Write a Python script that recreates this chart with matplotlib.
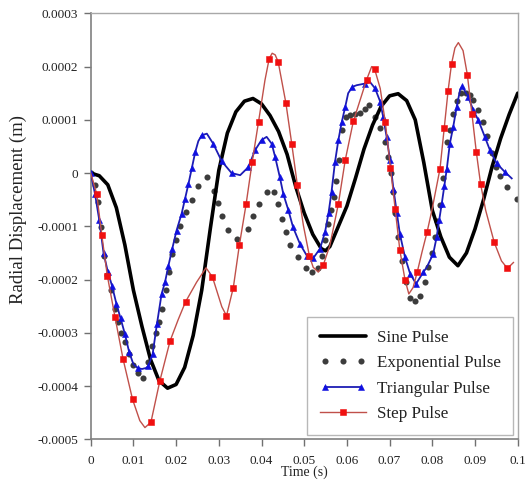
import matplotlib
matplotlib.use("Agg")
import matplotlib.pyplot as plt
from matplotlib.legend_handler import HandlerLine2D

# ---------------- data (displacement in units of 1e-4 m) ----------------
t_sine = [0.000, 0.002, 0.004, 0.006, 0.008, 0.010, 0.012, 0.014, 0.016, 0.018,
          0.020, 0.022, 0.024, 0.026, 0.028, 0.030, 0.032, 0.034, 0.036, 0.038,
          0.040, 0.042, 0.044, 0.046, 0.048, 0.050, 0.052, 0.054, 0.055, 0.056,
          0.058, 0.060, 0.062, 0.064, 0.066, 0.068, 0.070, 0.072, 0.074, 0.076,
          0.078, 0.080, 0.082, 0.084, 0.086, 0.088, 0.090, 0.092, 0.094, 0.096,
          0.098, 0.100]
y_sine = [0.00, -0.05, -0.22, -0.65, -1.35, -2.20, -2.88, -3.50, -3.90, -4.04,
          -3.97, -3.65, -3.05, -2.20, -1.05, 0.05, 0.75, 1.15, 1.35, 1.40,
          1.30, 1.08, 0.78, 0.35, -0.25, -0.75, -1.15, -1.42, -1.46, -1.38,
          -1.00, -0.62, -0.10, 0.45, 0.90, 1.25, 1.45, 1.49, 1.36, 1.00,
          0.20, -0.70, -1.20, -1.58, -1.74, -1.50, -1.05, -0.50, 0.12, 0.65,
          1.10, 1.50]

t_exp = [0.0000, 0.0010, 0.0016, 0.0023, 0.0031, 0.0039, 0.0047, 0.0056, 0.0064,
         0.0072, 0.0080, 0.0090, 0.0100, 0.0111, 0.0122, 0.0133, 0.0143, 0.0152,
         0.0161, 0.0168, 0.0176, 0.0183, 0.0190, 0.0200, 0.0209, 0.0222, 0.0237,
         0.0252, 0.0272, 0.0288, 0.0299, 0.0308, 0.0322, 0.0343, 0.0369, 0.0381,
         0.0395, 0.0412, 0.0429, 0.0439, 0.0447, 0.0457, 0.0467, 0.0486, 0.0504,
         0.0518, 0.0532, 0.0541, 0.0549, 0.0556, 0.0563, 0.0569, 0.0575, 0.0581,
         0.0588, 0.0598, 0.0608, 0.0619, 0.0631, 0.0642, 0.0652, 0.0666, 0.0678,
         0.0689, 0.0697, 0.0703, 0.0708, 0.0713, 0.0720, 0.0728, 0.0738, 0.0748,
         0.0760, 0.0771, 0.0783, 0.0791, 0.0799, 0.0806, 0.0812, 0.0818, 0.0826,
         0.0834, 0.0841, 0.0849, 0.0858, 0.0868, 0.0878, 0.0888, 0.0896, 0.0908,
         0.0918, 0.0928, 0.0939, 0.0949, 0.0959, 0.0976, 0.0998]
y_exp = [0.00, -0.23, -0.55, -1.02, -1.55, -1.92, -2.20, -2.55, -2.80,
         -3.00, -3.18, -3.40, -3.60, -3.75, -3.84, -3.55, -3.24, -3.00,
         -2.80, -2.55, -2.20, -1.85, -1.52, -1.25, -1.00, -0.74, -0.51,
         -0.25, -0.08, -0.33, -0.56, -0.80, -1.06, -1.24, -1.05, -0.80,
         -0.58, -0.36, -0.36, -0.58, -0.86, -1.11, -1.36, -1.58, -1.78,
         -1.85, -1.78, -1.55, -1.25, -0.95, -0.70, -0.45, -0.15, 0.25,
         0.80, 1.05, 1.09, 1.10, 1.12, 1.20, 1.27, 1.05, 0.84,
         0.58, 0.30, 0.00, -0.35, -0.75, -1.20, -1.65, -2.05, -2.34,
         -2.40, -2.30, -2.05, -1.77, -1.50, -1.20, -0.90, -0.60, -0.10,
         0.58, 0.80, 1.10, 1.35, 1.50, 1.50, 1.46, 1.37, 1.18,
         0.95, 0.70, 0.37, 0.12, -0.06, -0.27, -0.48]

t_tri = [0.000, 0.001, 0.002, 0.003, 0.004, 0.005, 0.006, 0.007, 0.008, 0.009,
         0.010, 0.011, 0.012, 0.013, 0.0135, 0.0145, 0.0155, 0.0166, 0.0174, 0.0182,
         0.0191, 0.0201, 0.0213, 0.0221, 0.0229, 0.0237, 0.0245, 0.0252, 0.0260, 0.0272,
         0.0287, 0.0307, 0.0330, 0.0350, 0.0369, 0.0385, 0.0400, 0.0412, 0.0424, 0.0432,
         0.0443, 0.0451, 0.0463, 0.0474, 0.0490, 0.0506, 0.0521, 0.0537, 0.0549, 0.0557,
         0.0564, 0.0572, 0.0580, 0.0588, 0.0596, 0.0603, 0.0613, 0.0623, 0.0642, 0.0654,
         0.0666, 0.0678, 0.0685, 0.0693, 0.0701, 0.0709, 0.0717, 0.0724, 0.0736, 0.0748,
         0.0762, 0.0779, 0.0787, 0.0802, 0.0810, 0.0816, 0.0822, 0.0828, 0.0834, 0.0841,
         0.0849, 0.0857, 0.0865, 0.0870, 0.0884, 0.0896, 0.0908, 0.0923, 0.0935, 0.0951,
         0.0970, 0.0986]
y_tri = [0.00, -0.39, -0.88, -1.50, -1.85, -2.12, -2.45, -2.73, -3.02, -3.36,
         -3.59, -3.66, -3.68, -3.66, -3.62, -3.40, -2.84, -2.27, -2.05, -1.74,
         -1.42, -1.08, -0.76, -0.48, -0.20, 0.10, 0.40, 0.60, 0.71, 0.74,
         0.55, 0.22, 0.00, -0.04, 0.11, 0.43, 0.62, 0.68, 0.55, 0.30,
         -0.08, -0.39, -0.70, -1.02, -1.33, -1.55, -1.60, -1.42, -1.10, -0.75,
         -0.35, 0.20, 0.62, 0.96, 1.24, 1.50, 1.62, 1.65, 1.68, 1.71,
         1.59, 1.34, 1.05, 0.68, 0.24, -0.30, -0.75, -1.14, -1.58, -1.89,
         -2.08, -1.86, -1.77, -1.52, -1.21, -0.89, -0.58, -0.25, 0.08, 0.55,
         0.87, 1.24, 1.56, 1.63, 1.43, 1.18, 0.99, 0.68, 0.43, 0.18,
         0.02, -0.10]

t_step = [0.0000, 0.0014, 0.0026, 0.0039, 0.0057, 0.0076, 0.0098, 0.0115, 0.0127, 0.0141,
          0.0162, 0.0186, 0.0205, 0.0222, 0.0248, 0.0270, 0.0285, 0.0307, 0.0318, 0.0334,
          0.0348, 0.0364, 0.0378, 0.0393, 0.0408, 0.0418, 0.0425, 0.0432, 0.0439, 0.0457,
          0.0471, 0.0484, 0.0498, 0.0512, 0.0521, 0.0533, 0.0545, 0.0560, 0.0580, 0.0596,
          0.0615, 0.0646, 0.0658, 0.0665, 0.0678, 0.0690, 0.0702, 0.0713, 0.0724, 0.0736,
          0.0745, 0.0755, 0.0765, 0.0776, 0.0788, 0.0799, 0.0818, 0.0828, 0.0837, 0.0845,
          0.0853, 0.0861, 0.0872, 0.0882, 0.0893, 0.0903, 0.0913, 0.0925, 0.0945, 0.0962,
          0.0976, 0.0990]
y_step = [0.00, -0.39, -1.17, -1.93, -2.71, -3.50, -4.25, -4.65, -4.78, -4.68,
          -3.90, -3.15, -2.75, -2.42, -2.05, -1.78, -1.95, -2.51, -2.68, -2.15,
          -1.36, -0.58, 0.20, 0.96, 1.74, 2.15, 2.25, 2.22, 2.09, 1.32,
          0.54, -0.23, -0.98, -1.55, -1.77, -1.86, -1.72, -1.36, -0.58, 0.24,
          0.97, 1.75, 2.00, 1.95, 1.59, 0.95, 0.10, -0.67, -1.45, -2.00,
          -2.27, -2.15, -1.85, -1.48, -1.10, -0.70, 0.08, 0.85, 1.55, 2.05,
          2.35, 2.45, 2.30, 1.85, 1.10, 0.40, -0.20, -0.70, -1.30, -1.65,
          -1.79, -1.68]

labels = ["Sine Pulse", "Exponential Pulse", "Triangular Pulse", "Step Pulse"]
x_ticks = [0, 0.01, 0.02, 0.03, 0.04, 0.05, 0.06, 0.07, 0.08, 0.09, 0.1]
x_ticklabels = ["0", "0.01", "0.02", "0.03", "0.04", "0.05", "0.06", "0.07", "0.08", "0.09", "0.1"]
y_ticks = [0.0003, 0.0002, 0.0001, 0, -0.0001, -0.0002, -0.0003, -0.0004, -0.0005]
y_ticklabels = ["0.0003", "0.0002", "0.0001", "0", "-0.0001", "-0.0002", "-0.0003", "-0.0004", "-0.0005"]

SCALE = 1e-4

plt.rcParams["font.family"] = ["Liberation Serif", "DejaVu Serif"]

fig = plt.figure(figsize=(5.28, 4.86), dpi=100)
ax = fig.add_axes([0.1718, 0.0961, 0.8087, 0.8765])

l_sine, = ax.plot(t_sine, [v * SCALE for v in y_sine], color="black", lw=2.6,
                  solid_capstyle="round", label=labels[0], zorder=3)
l_exp, = ax.plot(t_exp, [v * SCALE for v in y_exp], linestyle="none", marker="o",
                 ms=4.4, mew=0, color="#3c3c3c", label=labels[1], zorder=2)
l_tri, = ax.plot(t_tri, [v * SCALE for v in y_tri], color="#1c1cb4", lw=1.3,
                 marker="^", ms=4.6, mew=0.4, mfc="#1010e0", mec="#1010e0",
                 markevery=(0.0, 0.024), label=labels[2], zorder=4)
l_step, = ax.plot(t_step, [v * SCALE for v in y_step], color="#c0504a", lw=1.0,
                  marker="s", ms=5.0, mew=0.4, mfc="#f01010", mec="#f01010",
                  markevery=(0.035, 0.07), label=labels[3], zorder=5)

ax.set_xlim(0, 0.1)
ax.set_ylim(-0.0005, 0.0003)
ax.set_xticks(x_ticks)
ax.set_xticklabels(x_ticklabels)
ax.set_yticks(y_ticks)
ax.set_yticklabels(y_ticklabels)
ax.tick_params(axis="both", direction="out", length=5, width=1.0, color="#707070",
               labelsize=9.5, labelcolor="#222222")
ax.tick_params(axis="x", pad=6)
ax.tick_params(axis="y", pad=4)
ax.tick_params(top=False, right=False)

for side in ["left", "bottom"]:
    ax.spines[side].set_color("#808080")
    ax.spines[side].set_linewidth(1.2)
for side in ["top", "right"]:
    ax.spines[side].set_color("#a8a8a8")
    ax.spines[side].set_linewidth(1.0)

ax.set_xlabel("Time (s)", fontsize=10, color="#222222", labelpad=-1)
ax.set_ylabel("Radial Displacement (m)", fontsize=13.5, color="#222222")
ax.yaxis.set_label_coords(-0.149, 0.54)

leg = ax.legend(handles=[l_sine, l_exp, l_tri, l_step], loc="lower right",
                fontsize=12.3, frameon=True, fancybox=False, framealpha=1,
                edgecolor="#b8b8b8", borderpad=0.75, labelspacing=0.55,
                handlelength=2.7, handletextpad=0.6, borderaxespad=0.25,
                handler_map={l_exp: HandlerLine2D(numpoints=3),
                             l_tri: HandlerLine2D(numpoints=2),
                             l_step: HandlerLine2D(numpoints=1)})
leg.get_frame().set_linewidth(1.0)
for txt in leg.get_texts():
    txt.set_color("#222222")

fig.savefig("out.png", dpi=100)
